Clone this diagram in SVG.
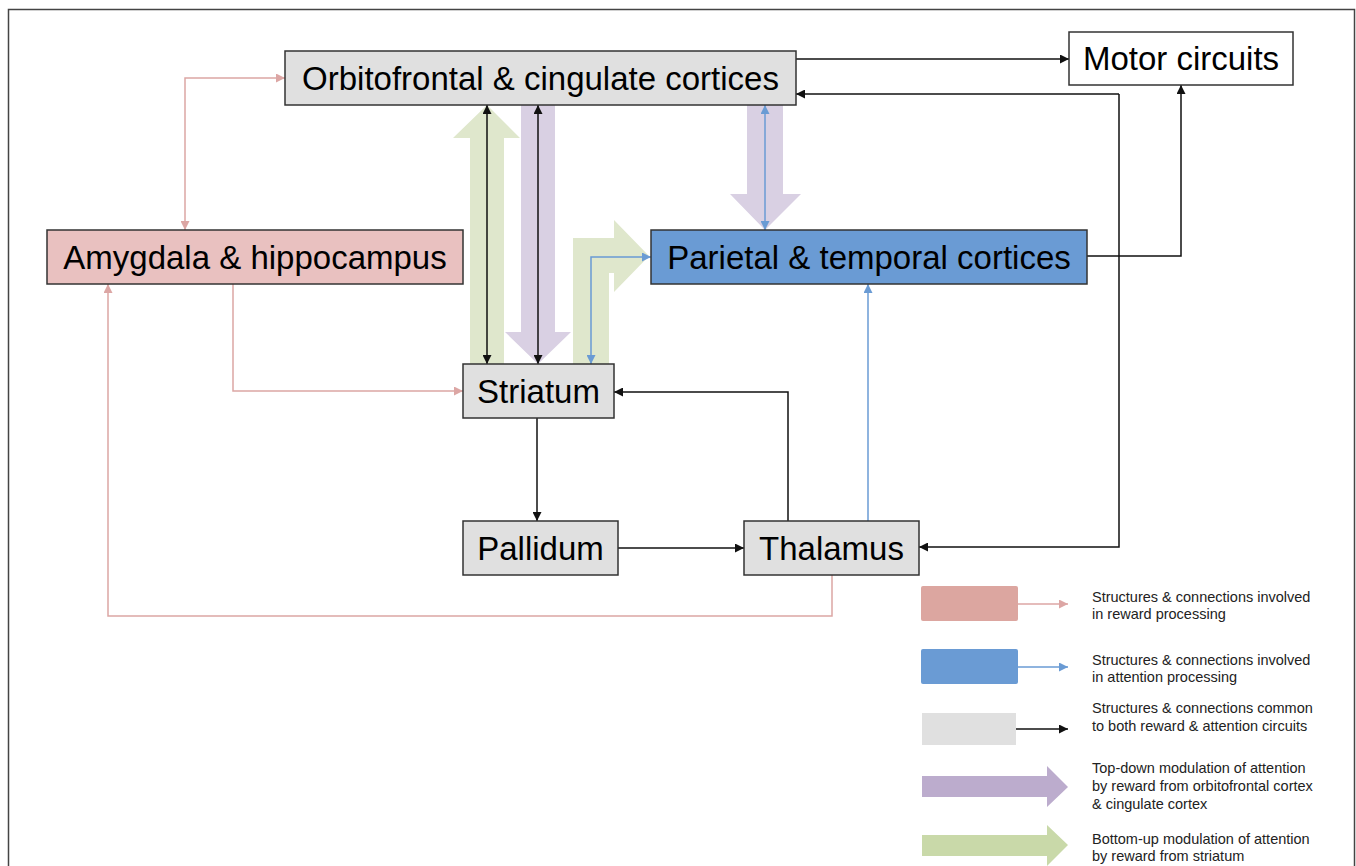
<svg xmlns="http://www.w3.org/2000/svg" width="1356" height="866" viewBox="0 0 1356 866">
<style>
.node{stroke:#333;stroke-width:1.5}
.gray{fill:#e0e0e0}
.pink{fill:#e9c1c0}
.blue{fill:#6a9bd4}
.white{fill:#fff}
.lbl{font-family:"Liberation Sans",Arial,sans-serif;font-size:33px;fill:#000;text-anchor:middle}
.leg{font-family:"Liberation Sans",Arial,sans-serif;font-size:14.5px;fill:#222}
.k{fill:none;stroke:#111;stroke-width:1.5}
.r{fill:none;stroke:#dca6a4;stroke-width:1.5}
.b{fill:none;stroke:#6a9bd4;stroke-width:1.5}
</style>
<defs>
<marker id="ak" viewBox="0 0 10 10" refX="10" refY="5" markerWidth="9" markerHeight="9" markerUnits="userSpaceOnUse" orient="auto-start-reverse"><path d="M0,0L10,5L0,10z" fill="#111"/></marker>
<marker id="ar" viewBox="0 0 10 10" refX="10" refY="5" markerWidth="9" markerHeight="9" markerUnits="userSpaceOnUse" orient="auto-start-reverse"><path d="M0,0L10,5L0,10z" fill="#dca6a4"/></marker>
<marker id="ab" viewBox="0 0 10 10" refX="10" refY="5" markerWidth="9" markerHeight="9" markerUnits="userSpaceOnUse" orient="auto-start-reverse"><path d="M0,0L10,5L0,10z" fill="#6a9bd4"/></marker>
</defs>
<rect x="0" y="0" width="1356" height="866" fill="#fff"/>
<rect x="8.5" y="9.5" width="1346" height="900" fill="none" stroke="#444" stroke-width="1.5"/>

<g id="thick-arrows">
<polygon points="470,364 470,138 453,138 487,105 520,138 504,138 504,364" fill="#dfe7cc"/>
<polygon points="521,105 555,105 555,332 571,332 538,364 505,332 521,332" fill="#d9d0e3"/>
<polygon points="573,364 573,238 614,238 614,220 649,256 614,292 614,273 609,273 609,364" fill="#dfe7cc"/>
<polygon points="747,105 783,105 783,194 801,194 765,230 730,194 747,194" fill="#d9d0e3"/>
</g>

<g id="connectors">
<line class="k" x1="487" y1="105" x2="487" y2="364" marker-start="url(#ak)" marker-end="url(#ak)"/>
<line class="k" x1="538" y1="105" x2="538" y2="364" marker-start="url(#ak)" marker-end="url(#ak)"/>
<line class="b" x1="765" y1="105" x2="765" y2="230" marker-start="url(#ab)" marker-end="url(#ab)"/>
<polyline class="b" points="591,364 591,257 651,257" marker-start="url(#ab)" marker-end="url(#ab)"/>
<line class="k" x1="796" y1="59" x2="1069" y2="59" marker-end="url(#ak)"/>
<polyline class="k" points="1087,256 1181,256 1181,85" marker-end="url(#ak)"/>
<polyline class="k" points="1119,94 1119,547 919,547" marker-end="url(#ak)"/>
<line class="k" x1="1119" y1="94" x2="796" y2="94" marker-end="url(#ak)"/>
<polyline class="r" points="185,230 185,78 285,78" marker-start="url(#ar)" marker-end="url(#ar)"/>
<polyline class="r" points="233,284 233,391 463,391" marker-end="url(#ar)"/>
<polyline class="r" points="832,575 832,616 108,616 108,284" marker-end="url(#ar)"/>
<line class="k" x1="537" y1="418" x2="537" y2="521" marker-end="url(#ak)"/>
<line class="k" x1="618" y1="548" x2="744" y2="548" marker-end="url(#ak)"/>
<polyline class="k" points="788,521 788,392 614,392" marker-end="url(#ak)"/>
<line class="b" x1="868" y1="521" x2="868" y2="284" marker-end="url(#ab)"/>
</g>

<g id="orbitofrontal">
<rect class="node gray" x="285" y="51" width="511" height="54"/>
<text class="lbl" x="540.5" y="90">Orbitofrontal &amp; cingulate cortices</text>
</g>
<g id="motor">
<rect class="node white" x="1069" y="32" width="224" height="53"/>
<text class="lbl" x="1181" y="70">Motor circuits</text>
</g>
<g id="amygdala">
<rect class="node pink" x="47" y="230" width="416" height="54"/>
<text class="lbl" x="255" y="269">Amygdala &amp; hippocampus</text>
</g>
<g id="parietal">
<rect class="node blue" x="651" y="230" width="436" height="54"/>
<text class="lbl" x="869" y="269">Parietal &amp; temporal cortices</text>
</g>
<g id="striatum">
<rect class="node gray" x="463" y="364" width="151" height="54"/>
<text class="lbl" x="538.5" y="403">Striatum</text>
</g>
<g id="pallidum">
<rect class="node gray" x="463" y="521" width="155" height="54"/>
<text class="lbl" x="540.5" y="560">Pallidum</text>
</g>
<g id="thalamus">
<rect class="node gray" x="744" y="521" width="175" height="54"/>
<text class="lbl" x="831.5" y="560">Thalamus</text>
</g>

<g id="legend">
<rect x="921" y="586" width="97" height="35" rx="2" fill="#dca6a0"/>
<line class="r" x1="1018" y1="604" x2="1068" y2="604" marker-end="url(#ar)"/>
<text class="leg" x="1092" y="602">Structures &amp; connections involved</text>
<text class="leg" x="1092" y="619">in reward processing</text>

<rect x="921" y="649" width="97" height="35" rx="2" fill="#6a9bd4"/>
<line class="b" x1="1018" y1="667" x2="1068" y2="667" marker-end="url(#ab)"/>
<text class="leg" x="1092" y="665">Structures &amp; connections involved</text>
<text class="leg" x="1092" y="682">in attention processing</text>

<rect x="922" y="713" width="94" height="32" fill="#e0e0e0"/>
<line class="k" x1="1016" y1="729" x2="1068" y2="729" marker-end="url(#ak)"/>
<text class="leg" x="1092" y="713">Structures &amp; connections common</text>
<text class="leg" x="1092" y="731">to both reward &amp; attention circuits</text>

<polygon points="922,776 1047,776 1047,766 1068,787 1047,807 1047,797 922,797" fill="#bcaccd"/>
<text class="leg" x="1092" y="773">Top-down modulation of attention</text>
<text class="leg" x="1092" y="791">by reward from orbitofrontal cortex</text>
<text class="leg" x="1092" y="809">&amp; cingulate cortex</text>

<polygon points="922,835 1047,835 1047,825 1068,845 1047,866 1047,856 922,856" fill="#c9d9a9"/>
<text class="leg" x="1092" y="844">Bottom-up modulation of attention</text>
<text class="leg" x="1092" y="861">by reward from striatum</text>
</g>
</svg>
